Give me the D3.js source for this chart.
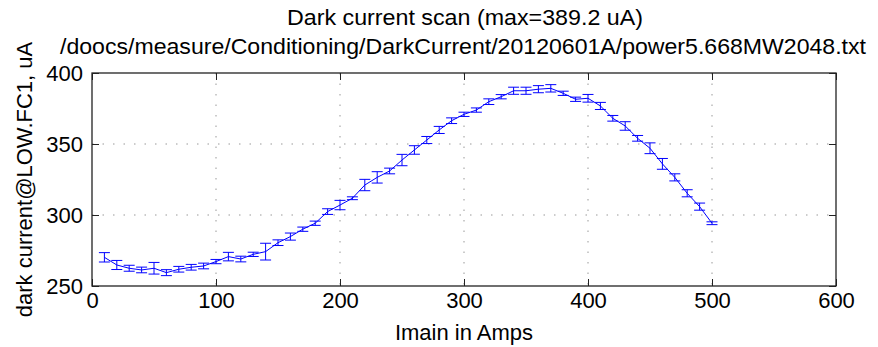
<!DOCTYPE html>
<html>
<head>
<meta charset="utf-8">
<script src="https://cdn.jsdelivr.net/npm/d3@7"></script>
<style>
  body { margin: 0; background: #fff; }
  text { font-family: "Liberation Sans", Arial, sans-serif; fill: #000; }
</style>
</head>
<body>
<svg id="chart"></svg>
<script>
// Imain (A) scan points
const imain = [10,20,30,40,50,60,70,80,90,100,110,120,130,140,150,160,170,180,190,200,
  210,220,230,240,250,260,270,280,290,300,310,320,330,340,350,360,370,380,390,400,
  410,420,430,440,450,460,470,480,490,500];
// dark current, uA
const darkCurrent = [270.2,264.8,262.5,261.3,262.5,259.4,261.8,263.2,264.1,267.2,
  270.7,269.0,272.3,274.2,280.5,284.8,290.0,294.2,302.4,307.0,
  311.8,321.1,326.5,331.0,338.7,345.8,352.8,359.9,366.4,370.9,
  373.9,379.8,383.3,387.5,387.5,388.6,389.2,385.7,381.5,382.2,
  376.8,368.1,362.7,354.0,347.0,336.0,326.5,315.3,305.9,294.2];
// error bar half-heights, uA
const darkErr = [3.3,3.2,2.1,2.0,4.1,2.1,2.0,2.0,2.0,1.5,
  3.0,2.0,1.5,5.9,2.0,2.5,1.5,1.5,2.0,3.3,
  1.0,4.0,4.0,2.0,4.0,3.0,2.5,2.5,2.0,1.5,
  1.5,2.0,1.5,2.5,2.5,2.5,2.6,1.5,1.5,2.7,
  2.5,2.0,3.0,2.0,3.8,3.8,2.5,2.5,2.5,1.0];
const xTicks = [0,100,200,300,400,500,600];
const yTicks = [250,300,350,400];
const titleLines = ["Dark current scan (max=389.2 uA)",
  "/doocs/measure/Conditioning/DarkCurrent/20120601A/power5.668MW2048.txt"];

const W = 878, H = 347;
const margin = {top: 73, right: 42, bottom: 61, left: 92};
const width = W - margin.left - margin.right;
const height = H - margin.top - margin.bottom;
const fontSize = '22px';

const svg = d3.select('#chart').attr('width', W).attr('height', H);
const g = svg.append('g').attr('transform', `translate(${margin.left},${margin.top})`);

const x = d3.scaleLinear().domain([0, 600]).range([0, width]);
const y = d3.scaleLinear().domain([250, 400]).range([height, 0]);

// dotted grid
g.append('g').selectAll('line').data(xTicks.slice(1, -1)).join('line')
  .attr('x1', d => x(d)).attr('x2', d => x(d)).attr('y1', 0).attr('y2', height)
  .attr('stroke', '#999').attr('stroke-dasharray', '1.5,9');
g.append('g').selectAll('line').data(yTicks.slice(1, -1)).join('line')
  .attr('y1', d => y(d)).attr('y2', d => y(d)).attr('x1', 0).attr('x2', width)
  .attr('stroke', '#999').attr('stroke-dasharray', '1.5,9');

// axes with inward ticks, matlab box style
const tickLen = 7;
g.append('g').attr('transform', `translate(0,${height})`)
  .call(d3.axisBottom(x).tickValues(xTicks).tickSizeInner(-tickLen).tickSizeOuter(0).tickPadding(6));
g.append('g')
  .call(d3.axisLeft(y).tickValues(yTicks).tickSizeInner(-tickLen).tickSizeOuter(0).tickPadding(9));
g.append('g').attr('transform', `translate(${width},0)`)
  .call(d3.axisRight(y).tickValues(yTicks).tickSizeInner(-tickLen).tickSizeOuter(0).tickFormat(''));
g.append('g')
  .call(d3.axisTop(x).tickValues(xTicks).tickSizeInner(-tickLen).tickSizeOuter(0).tickFormat(''));
g.selectAll('.domain').remove();
g.selectAll('.tick line').attr('stroke', '#222');
g.selectAll('.tick text').style('font-size', fontSize).attr('fill', '#000');

g.append('rect').attr('width', width).attr('height', height)
  .attr('fill', 'none').attr('stroke', '#222').attr('stroke-width', 1.3);

// data line + error bars
const pts = imain.map((v, i) => ({x: v, y: darkCurrent[i], e: darkErr[i]}));
const blue = '#0000ff';
g.append('path').datum(pts)
  .attr('fill', 'none').attr('stroke', blue).attr('stroke-width', 1)
  .attr('d', d3.line().x(d => x(d.x)).y(d => y(d.y)));

const cap = 5.5;
const eb = g.append('g').attr('stroke', blue).attr('stroke-width', 1).attr('fill', 'none');
eb.selectAll('path').data(pts).join('path')
  .attr('d', d => {
    const px = x(d.x), y0 = y(d.y - d.e), y1 = y(d.y + d.e);
    return `M${px},${y0}V${y1}M${px - cap},${y0}H${px + cap}M${px - cap},${y1}H${px + cap}`;
  });

// titles and labels
svg.append('text').attr('x', 465).attr('y', 25).attr('text-anchor', 'middle')
  .style('font-size', fontSize).attr('textLength', 356).attr('lengthAdjust', 'spacingAndGlyphs')
  .text(titleLines[0]);
svg.append('text').attr('x', 463).attr('y', 54).attr('text-anchor', 'middle')
  .style('font-size', fontSize).attr('textLength', 806).attr('lengthAdjust', 'spacingAndGlyphs')
  .text(titleLines[1]);
svg.append('text').attr('x', margin.left + width / 2).attr('y', 340).attr('text-anchor', 'middle')
  .style('font-size', fontSize).text('Imain in Amps');
svg.append('text').attr('transform', `translate(32,${margin.top + height / 2}) rotate(-90)`)
  .attr('text-anchor', 'middle').style('font-size', fontSize)
  .text('dark current@LOW.FC1, uA');
</script>
</body>
</html>
